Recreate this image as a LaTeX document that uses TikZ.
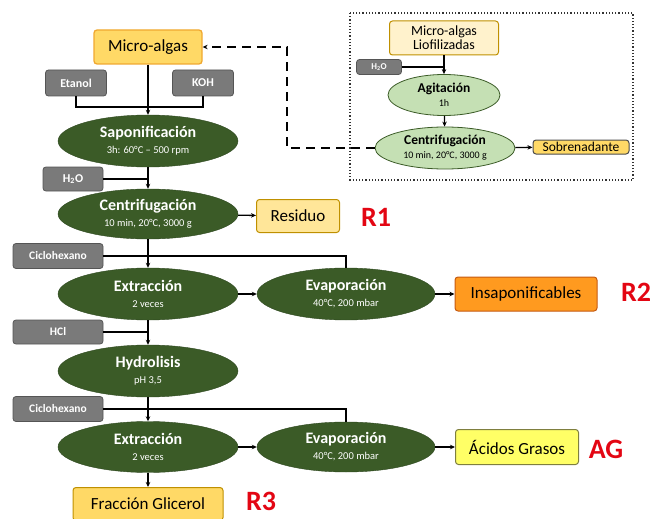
\documentclass[tikz,border=0pt]{standalone}
\usepackage{fontspec}
\setmainfont{Carlito}
\usetikzlibrary{shapes.geometric,arrows.meta}
\definecolor{dgreen}{HTML}{3B5B27}
\definecolor{dgreenb}{HTML}{2E4820}
\definecolor{lgreen}{HTML}{C5E0B4}
\definecolor{gfill}{HTML}{7A7A7A}
\definecolor{gborder}{HTML}{555555}
\definecolor{yorange}{HTML}{FFD966}
\definecolor{oborder}{HTML}{F0A830}
\definecolor{bborder}{HTML}{BF9000}
\definecolor{lyellow}{HTML}{FFE699}
\definecolor{pale}{HTML}{FFF2CC}
\definecolor{orng}{HTML}{FF9A1F}
\definecolor{orngb}{HTML}{C55A11}
\definecolor{yel}{HTML}{FFFF66}
\definecolor{yelb}{HTML}{7F7F3F}
\definecolor{rred}{HTML}{E30613}
\begin{document}
\begin{tikzpicture}[x=1pt,y=-1pt,
  ell/.style={ellipse, fill=dgreen, draw=dgreenb, text=white, minimum width=180pt, minimum height=52pt, inner sep=0pt, align=center},
  lell/.style={ellipse, fill=lgreen, draw=dgreen, line width=0.8pt, text=black, inner sep=0pt, align=center},
  gbox/.style={rectangle, rounded corners=3pt, fill=gfill, draw=gborder, line width=0.8pt, text=white, font=\bfseries\fontsize{11.5}{13}\selectfont, minimum height=25pt, inner sep=0pt},
  rbox/.style={rectangle, rounded corners=3pt, line width=1pt, inner sep=0pt, font=\fontsize{17}{19}\selectfont},
  rlab/.style={text=rred, font=\bfseries\fontsize{28}{30}\selectfont},
  ln/.style={line width=1.3pt},
  arr/.style={line width=1.3pt, -{Stealth[length=5pt,width=4.5pt]}},
]
\useasboundingbox (0,0) rectangle (654,519);
\newcommand{\ellt}[2]{{\fontsize{16}{18}\selectfont\bfseries #1}\\[4pt]{\fontsize{10.5}{12}\selectfont #2}}

% main column
\node[rbox, fill=yorange, draw=oborder, minimum width=108pt, minimum height=34pt, line width=1.3pt] (ma) at (148,47) {Micro-algas};
\node[gbox, minimum width=61pt, minimum height=26pt, font=\bfseries\fontsize{12}{14}\selectfont] (etanol) at (76,83) {Etanol};
\node[gbox, minimum width=61pt, minimum height=26pt, font=\bfseries\fontsize{12}{14}\selectfont] (koh) at (203,83) {KOH};
\coordinate (j1) at (148,107);
\node[ell] (sap) at (148,141) {\ellt{Saponificación}{3h: 60°C – 500 rpm}};
\node[gbox, minimum width=60pt, minimum height=24pt, font=\bfseries\fontsize{12}{14}\selectfont] (h2o) at (73,179) {H\textsubscript{2}O};
\node[ell, minimum height=50pt] (cen) at (148,214) {\ellt{Centrifugación}{10 min, 20°C, 3000 g}};
\node[rbox, fill=lyellow, draw=bborder, minimum width=83pt, minimum height=33pt] (res) at (298,216) {Residuo};
\node[rlab] (r1) at (376,217) {R1};
\node[gbox, minimum width=90pt, minimum height=25pt] (cic1) at (58,256) {Ciclohexano};
\node[ell] (ext1) at (148,294) {\ellt{Extracción}{2 veces}};
\node[ell, minimum width=178pt] (eva1) at (346,294) {\ellt{Evaporación}{40°C, 200 mbar}};
\node[rbox, fill=orng, draw=orngb, minimum width=142pt, minimum height=34pt] (ins) at (526,294) {Insaponificables};
\node[rlab] (r2) at (636,292) {R2};
\node[gbox, minimum width=90pt, minimum height=24pt] (hcl) at (58,332) {HCl};
\node[ell] (hyd) at (148,371) {\ellt{Hydrolisis}{pH 3,5}};
\node[gbox, minimum width=90pt, minimum height=25pt] (cic2) at (58,409) {Ciclohexano};
\node[ell, minimum height=51pt] (ext2) at (148,447) {\ellt{Extracción}{2 veces}};
\node[ell, minimum width=178pt, minimum height=50pt] (eva2) at (346,447) {\ellt{Evaporación}{40°C, 200 mbar}};
\node[rbox, fill=yel, draw=yelb, minimum width=123pt, minimum height=35pt] (ag) at (517,447) {Ácidos Grasos};
\node[rlab] (agl) at (606,449) {AG};
\node[rbox, fill=yorange, draw=bborder, minimum width=150pt, minimum height=33pt] (gli) at (148,504) {Fracción Glicerol};
\node[rlab] (r3) at (261,501) {R3};

% right panel
\draw[line width=1.2pt, dotted, draw=black!80] (350,13) rectangle (633,180);
\node[rbox, fill=pale, draw=bborder, minimum width=109pt, minimum height=34pt, align=center, font=\fontsize{14}{14}\selectfont] (liof) at (444,38) {Micro-algas\\Liofilizadas};
\node[gbox, minimum width=45pt, minimum height=15pt, font=\bfseries\fontsize{9}{10}\selectfont] (h2os) at (379,67) {H\textsubscript{2}O};
\node[lell, minimum width=112pt, minimum height=41pt] (agi) at (444,95) {{\fontsize{13.5}{15}\selectfont\bfseries Agitación}\\[2pt]{\fontsize{10}{11}\selectfont 1h}};
\node[lell, minimum width=140pt, minimum height=42pt] (cen2) at (445,148) {{\fontsize{13.5}{15}\selectfont\bfseries Centrifugación}\\[2pt]{\fontsize{10}{11}\selectfont 10 min, 20°C, 3000 g}};
\node[rbox, fill=yorange, draw=black!70, minimum width=96pt, minimum height=14pt, font=\fontsize{13.5}{14}\selectfont] (sob) at (581,147) {Sobrenadante};
\coordinate (dc) at (287,148);

% connectors main
\draw[arr] (ma) -- (sap);
\draw[ln] (etanol.south) |- (j1) -| (koh.south);
\draw[ln] (h2o.east) -- (sap.south |- h2o.east);
\draw[arr] (sap) -- (cen);
\draw[arr] (cen) -- (res);
\draw[ln] (cic1.east) -| (eva1.north);
\draw[arr] (cen) -- (ext1);
\draw[arr] (ext1) -- (eva1);
\draw[arr] (eva1) -- (ins);
\draw[ln] (hcl.east) -- (ext1.south |- hcl.east);
\draw[arr] (ext1) -- (hyd);
\draw[ln] (cic2.east) -| (eva2.north);
\draw[arr] (hyd) -- (ext2);
\draw[arr] (ext2) -- (eva2);
\draw[arr] (eva2) -- (ag);
\draw[arr] (ext2) -- (gli);

% connectors panel
\draw[arr] (liof) -- (agi);
\draw[ln] (h2os.east) -- (liof.south |- h2os.east);
\draw[arr] (agi) -- (cen2);
\draw[arr] (cen2) -- (sob);
\draw[arr, dashed, dash pattern=on 9pt off 6pt] (cen2.west) -- (dc) |- (ma.east);
\end{tikzpicture}
\end{document}
